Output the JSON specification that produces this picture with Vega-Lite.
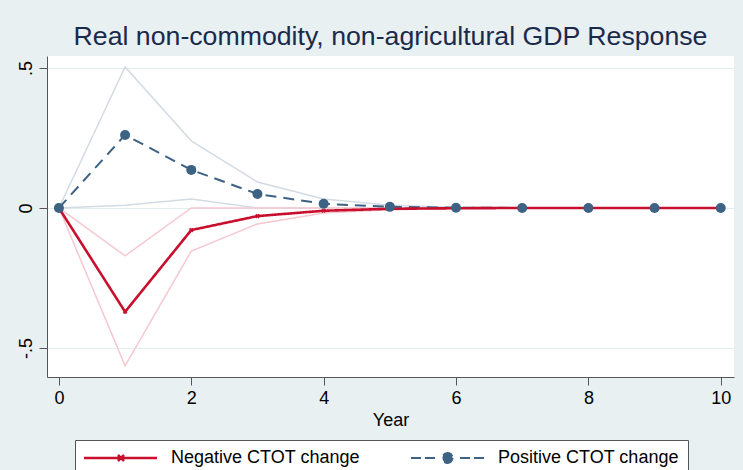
{
  "$schema": "https://vega.github.io/schema/vega-lite/v6.json",
  "width": 687,
  "height": 321,
  "autosize": {"type": "none"},
  "padding": {"left": 47, "top": 56, "right": 9, "bottom": 93},
  "background": "#E8F0F2",
  "title": {
    "text": "Real non-commodity, non-agricultural GDP Response",
    "font": "Liberation Sans",
    "fontSize": 26.7,
    "fontWeight": "normal",
    "color": "#1B2A4A",
    "anchor": "middle",
    "offset": 5
  },
  "config": {
    "view": {"fill": "white", "stroke": null},
    "font": "Liberation Sans"
  },
  "data": {
    "values": [
      {"year": 0, "series": "Positive CTOT change", "est": 0, "lo": 0, "hi": 0},
      {"year": 1, "series": "Positive CTOT change", "est": 0.261, "lo": 0.01, "hi": 0.504},
      {"year": 2, "series": "Positive CTOT change", "est": 0.136, "lo": 0.032, "hi": 0.24},
      {"year": 3, "series": "Positive CTOT change", "est": 0.05, "lo": 0.0, "hi": 0.093},
      {"year": 4, "series": "Positive CTOT change", "est": 0.015, "lo": 0.0, "hi": 0.032},
      {"year": 5, "series": "Positive CTOT change", "est": 0.004, "lo": 0.0, "hi": 0.01},
      {"year": 6, "series": "Positive CTOT change", "est": 0.001, "lo": 0.0, "hi": 0.003},
      {"year": 7, "series": "Positive CTOT change", "est": 0, "lo": 0, "hi": 0.001},
      {"year": 8, "series": "Positive CTOT change", "est": 0, "lo": 0, "hi": 0},
      {"year": 9, "series": "Positive CTOT change", "est": 0, "lo": 0, "hi": 0},
      {"year": 10, "series": "Positive CTOT change", "est": 0, "lo": 0, "hi": 0},
      {"year": 0, "series": "Negative CTOT change", "est": 0, "lo": 0, "hi": 0},
      {"year": 1, "series": "Negative CTOT change", "est": -0.371, "lo": -0.564, "hi": -0.171},
      {"year": 2, "series": "Negative CTOT change", "est": -0.079, "lo": -0.154, "hi": 0.0},
      {"year": 3, "series": "Negative CTOT change", "est": -0.029, "lo": -0.057, "hi": 0.0},
      {"year": 4, "series": "Negative CTOT change", "est": -0.01, "lo": -0.018, "hi": 0.0},
      {"year": 5, "series": "Negative CTOT change", "est": -0.003, "lo": -0.006, "hi": 0.0},
      {"year": 6, "series": "Negative CTOT change", "est": -0.001, "lo": -0.002, "hi": 0.0},
      {"year": 7, "series": "Negative CTOT change", "est": 0, "lo": -0.001, "hi": 0},
      {"year": 8, "series": "Negative CTOT change", "est": 0, "lo": 0, "hi": 0},
      {"year": 9, "series": "Negative CTOT change", "est": 0, "lo": 0, "hi": 0},
      {"year": 10, "series": "Negative CTOT change", "est": 0, "lo": 0, "hi": 0}
    ]
  },
  "encoding": {
    "x": {
      "field": "year",
      "type": "quantitative",
      "scale": {"domain": [-0.18, 10.2], "nice": false, "zero": false},
      "axis": {
        "values": [0, 2, 4, 6, 8, 10],
        "title": "Year",
        "grid": false,
        "domainColor": "#555555",
        "tickColor": "#555555",
        "tickSize": 8,
        "labelFontSize": 18,
        "labelColor": "#000000",
        "labelPadding": 4,
        "titleFontSize": 18,
        "titleFontWeight": "normal",
        "titleColor": "#000000",
        "titlePadding": 4
      }
    }
  },
  "layer": [
    {
      "transform": [
        {"filter": "datum.series == 'Positive CTOT change'"},
        {"fold": ["lo", "hi"], "as": ["bound", "val"]}
      ],
      "mark": {"type": "line", "color": "#D3DCE4", "strokeWidth": 1.5},
      "encoding": {
        "y": {
          "field": "val",
          "type": "quantitative",
          "scale": {"domain": [-0.604, 0.543], "nice": false, "zero": false},
          "axis": {
            "values": [-0.5, 0, 0.5],
            "labelExpr": "datum.value == 0 ? '0' : (datum.value > 0 ? '.5' : '-.5')",
            "title": null,
            "grid": true,
            "gridColor": "#E3ECEF",
            "gridWidth": 1.2,
            "domainColor": "#555555",
            "tickColor": "#555555",
            "tickSize": 8,
            "labelFontSize": 18,
            "labelColor": "#000000",
            "labelAngle": -90,
            "labelAlign": "center",
            "labelBaseline": "bottom",
            "labelPadding": 4
          }
        },
        "detail": {"field": "bound"}
      }
    },
    {
      "transform": [
        {"filter": "datum.series == 'Negative CTOT change'"},
        {"fold": ["lo", "hi"], "as": ["bound", "val"]}
      ],
      "mark": {"type": "line", "color": "#F6C8CF", "strokeWidth": 1.5},
      "encoding": {
        "y": {"field": "val", "type": "quantitative"},
        "detail": {"field": "bound"}
      }
    },
    {
      "mark": {"type": "line"},
      "encoding": {
        "y": {"field": "est", "type": "quantitative"},
        "color": {
          "field": "series",
          "type": "nominal",
          "scale": {
            "domain": ["Negative CTOT change", "Positive CTOT change"],
            "range": ["#C8102E", "#3D6283"]
          },
          "legend": {
            "orient": "none",
            "legendX": 28,
            "legendY": 384,
            "direction": "horizontal",
            "title": null,
            "strokeColor": "#555555",
            "fillColor": "#FFFFFF",
            "padding": 9,
            "symbolSize": 4,
            "symbolStrokeWidth": 2,
            "labelOffset": 69,
            "labelLimit": 400,
            "columnPadding": 47,
            "labelFontSize": 18,
            "labelColor": "#000000",
            "labelFont": "Liberation Sans",
            "encode": {
              "symbols": {
                "update": {
                  "shape": {"signal": "datum.value == 'Positive CTOT change' ? 'M-9,0L1,0M5,0L15,0M32.5,0A5,5,0,1,1,22.5,0A5,5,0,1,1,32.5,0ZM40,0L50,0M54,0L64,0' : 'M-9,0L64,0M25,-3L31,3M25,3L31,-3'"},
                  "fill": {"signal": "datum.value == 'Positive CTOT change' ? '#3D6283' : 'transparent'"},
                  "stroke": {"signal": "datum.value == 'Positive CTOT change' ? '#3D6283' : '#C8102E'"},
                  "strokeWidth": {"value": 2},
                  "strokeDash": {"value": []},
                  "size": {"value": 4},
                  "opacity": {"value": 1}
                }
              }
            }
          }
        },
        "strokeDash": {
          "field": "series",
          "type": "nominal",
          "scale": {
            "domain": ["Negative CTOT change", "Positive CTOT change"],
            "range": [[1, 0], [11, 7]]
          },
          "legend": null
        },
        "strokeWidth": {
          "field": "series",
          "type": "nominal",
          "scale": {
            "domain": ["Negative CTOT change", "Positive CTOT change"],
            "range": [2.6, 2]
          },
          "legend": null
        }
      }
    },
    {
      "transform": [{"filter": "datum.series == 'Negative CTOT change'"}],
      "mark": {"type": "point", "shape": "cross", "angle": 45, "size": 22, "filled": true, "opacity": 1, "color": "#C8102E"},
      "encoding": {
        "y": {"field": "est", "type": "quantitative"}
      }
    },
    {
      "transform": [{"filter": "datum.series == 'Positive CTOT change'"}],
      "mark": {"type": "point", "shape": "circle", "size": 100, "filled": true, "opacity": 1, "color": "#3D6283"},
      "encoding": {
        "y": {"field": "est", "type": "quantitative"}
      }
    }
  ]
}
